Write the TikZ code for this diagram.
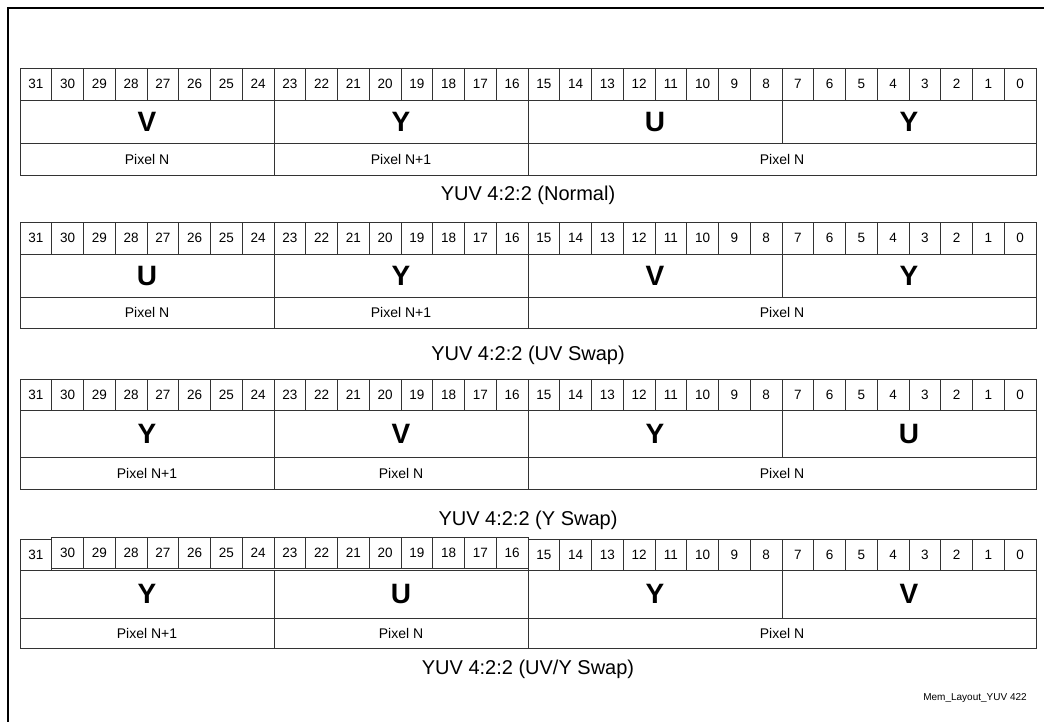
\documentclass[tikz,border=0pt]{standalone}
\usepackage{fontspec}
\setmainfont{Liberation Sans}
\tikzset{
  cell/.style={draw=black!80, line width=0.9pt, inner sep=0pt, outer sep=0pt, anchor=north west},
  bitcell/.style={cell, minimum width=31.75pt, font=\fontsize{13.5}{14}\selectfont},
  bytecell/.style={cell, minimum width=254pt, font=\bfseries\fontsize{28}{28}\selectfont},
  pixcell/.style={cell, font=\fontsize{14}{14}\selectfont},
  captiontext/.style={inner sep=0pt, font=\fontsize{20}{20}\selectfont},
  tagtext/.style={inner sep=0pt, font=\fontsize{10}{10}\selectfont},
  frameline/.style={line width=2.2pt, draw=black},
}
% #1 name, #2 top, #3 bit h, #4 byte h, #5 pixel h, #6 letters, #7 pixel A, #8 pixel B, #9 shift of bits 30..16
\newcommand\yuvtab[9]{%
  \foreach \k in {0,...,31}{%
    \pgfmathtruncatemacro\bn{31-\k}%
    \pgfmathsetmacro\bx{20+\k*31.75}%
    \pgfmathsetmacro\by{#2+(\bn<31)*(\bn>15)*(#9)}%
    \node[bitcell, minimum height=#3pt] (#1-b\bn) at (\bx,\by) {\bn};
  }
  \foreach \l [count=\i from 0] in {#6}{%
    \pgfmathsetmacro\bx{20+\i*254}%
    \node[bytecell, minimum height=#4pt] (#1-y\i) at (\bx,#2+#3) {\l};
  }
  \node[pixcell, minimum width=254pt, minimum height=#5pt] (#1-p0) at (20,#2+#3+#4) {#7};
  \node[pixcell, minimum width=254pt, minimum height=#5pt] (#1-p1) at (274,#2+#3+#4) {#8};
  \node[pixcell, minimum width=508pt, minimum height=#5pt] (#1-p2) at (528,#2+#3+#4) {Pixel N};
}
\begin{document}
\begin{tikzpicture}[x=1pt, y=-1pt]
  \useasboundingbox (0,0) rectangle (1044,721);
  \draw[frameline] (1046,8) -- (8,8) -- (8,723);

  \yuvtab{t1}{68}{32}{43}{32}{V,Y,U,Y}{Pixel N}{Pixel N+1}{0}
  \node[captiontext] (c1) at (528,195) {YUV 4:2:2 (Normal)};

  \yuvtab{t2}{222}{32}{43}{31}{U,Y,V,Y}{Pixel N}{Pixel N+1}{0}
  \node[captiontext] (c2) at (528,355) {YUV 4:2:2 (UV Swap)};

  \yuvtab{t3}{379}{31}{47}{32}{Y,V,Y,U}{Pixel N+1}{Pixel N}{0}
  \node[captiontext] (c3) at (528,520) {YUV 4:2:2 (Y Swap)};

  \yuvtab{t4}{539}{31}{48}{30}{Y,U,Y,V}{Pixel N+1}{Pixel N}{-2}
  \node[captiontext] (c4) at (528,669) {YUV 4:2:2 (UV/Y Swap)};

  \node[tagtext] (tag) at (975,698) {Mem\_Layout\_YUV 422};
\end{tikzpicture}
\end{document}
